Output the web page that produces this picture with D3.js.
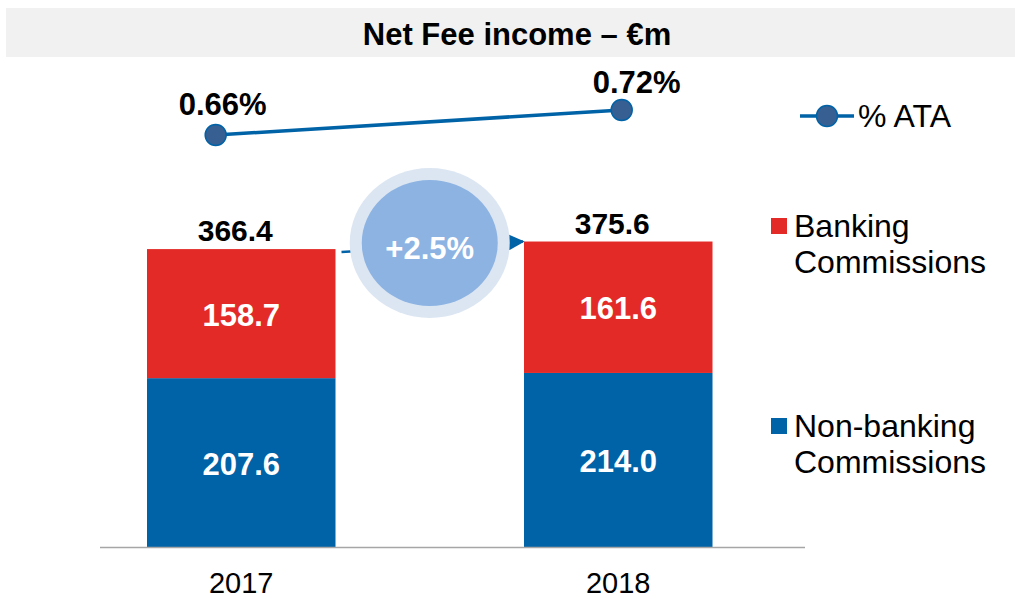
<!DOCTYPE html>
<html>
<head>
<meta charset="utf-8">
<script src="https://cdn.jsdelivr.net/npm/d3@7"></script>
<style>
  body { margin: 0; background: #fff; }
  svg { display: block; font-family: "Liberation Sans", Arial, sans-serif; }
</style>
</head>
<body>
<script>

// data
var years = ["2017", "2018"];
var nonBanking = [207.6, 214.0];
var banking = [158.7, 161.6];
var totals = [366.4, 375.6];
var ata = [0.66, 0.72];
var ataLabels = ["0.66%", "0.72%"];
var growthLabel = "+2.5%";
var title = "Net Fee income \u2013 \u20acm";

var w = 1015, h = 599;
var red = "#e42a27", blue = "#0062a7";

var svg = d3.select("body").append("svg")
    .attr("width", w)
    .attr("height", h);

// title band
svg.append("rect")
    .attr("x", 6).attr("y", 8)
    .attr("width", w - 6).attr("height", 49)
    .attr("fill", "#f1f1f1");

svg.append("text")
    .attr("x", 517).attr("y", 45)
    .attr("text-anchor", "middle")
    .style("font-size", "31px")
    .style("font-weight", "bold")
    .text(title);

// scales
var xScale = d3.scaleBand()
    .domain(years)
    .range([52.75, 806.75])
    .paddingInner(0.5)
    .paddingOuter(0.25);

var yScale = d3.scaleLinear()
    .domain([0, 400])
    .range([547, 547 - 400 * 0.8133]);

var xLine = d3.scalePoint().domain(years).range([215.7, 621.7]);
var yLine = d3.scaleLinear().domain([0.6, 0.75]).range([160, 97.5]);

// stacked bars
var stacked = years.map(function(y, i) {
    return { year: y, nb: nonBanking[i], b: banking[i], total: totals[i] };
});

var stack = d3.stack().keys(["nb", "b"])(stacked);
var colors = { nb: blue, b: red };

stack.forEach(function(layer) {
    svg.append("g").selectAll("rect")
        .data(layer)
        .enter()
        .append("rect")
        .attr("x", function(d) { return xScale(d.data.year); })
        .attr("y", function(d) { return yScale(d[1]); })
        .attr("width", xScale.bandwidth())
        .attr("height", function(d) { return yScale(d[0]) - yScale(d[1]); })
        .attr("fill", colors[layer.key]);

    svg.append("g").selectAll("text")
        .data(layer)
        .enter()
        .append("text")
        .attr("x", function(d) { return xScale(d.data.year) + xScale.bandwidth() / 2; })
        .attr("y", function(d) { return (yScale(d[0]) + yScale(d[1])) / 2 + 12; })
        .attr("text-anchor", "middle")
        .attr("fill", "#fff")
        .style("font-size", "31px")
        .style("font-weight", "bold")
        .text(function(d) { return d.data[layer.key].toFixed(1); });
});

// totals above bars
svg.selectAll(".total")
    .data(stacked)
    .enter()
    .append("text")
    .attr("x", function(d) { return xScale(d.year) + xScale.bandwidth() / 2 - 6; })
    .attr("y", function(d) { return yScale(d.total) - 8; })
    .attr("text-anchor", "middle")
    .style("font-size", "30px")
    .style("font-weight", "bold")
    .text(function(d) { return d.total.toFixed(1); });

// x axis line
svg.append("line")
    .attr("x1", 100).attr("x2", 805)
    .attr("y1", yScale(0) + 0.5).attr("y2", yScale(0) + 0.5)
    .attr("stroke", "#a6a6a6")
    .attr("stroke-width", 1.5);

svg.selectAll(".year")
    .data(years)
    .enter()
    .append("text")
    .attr("x", function(d) { return xScale(d) + xScale.bandwidth() / 2; })
    .attr("y", 593)
    .attr("text-anchor", "middle")
    .style("font-size", "29px")
    .text(function(d) { return d; });

// growth arrow + bubble
var defs = svg.append("defs");
defs.append("marker")
    .attr("id", "arrow")
    .attr("viewBox", "0 0 10 10")
    .attr("refX", 9).attr("refY", 5)
    .attr("markerWidth", 6.5).attr("markerHeight", 6.5)
    .attr("orient", "auto")
    .append("path")
    .attr("d", "M0,0 L10,5 L0,10 Z")
    .attr("fill", blue);

var x0 = xScale("2017") + xScale.bandwidth(), x1 = xScale("2018");
svg.append("line")
    .attr("x1", x0 + 6).attr("y1", yScale(totals[0]) + 3)
    .attr("x2", x1 - 1).attr("y2", yScale(totals[1]))
    .attr("stroke", blue)
    .attr("stroke-width", 2.5)
    .attr("marker-end", "url(#arrow)");

var cx = (x0 + x1) / 2, cy = 243;
svg.append("ellipse")
    .attr("cx", cx).attr("cy", cy)
    .attr("rx", 80).attr("ry", 75)
    .attr("fill", "#dce6f2");
svg.append("ellipse")
    .attr("cx", cx).attr("cy", cy)
    .attr("rx", 68).attr("ry", 63)
    .attr("fill", "#8db3e2");
svg.append("text")
    .attr("x", cx).attr("y", cy + 16)
    .attr("text-anchor", "middle")
    .attr("fill", "#fff")
    .style("font-size", "31px")
    .style("font-weight", "bold")
    .text(growthLabel);

// % ATA line
var lineGen = d3.line()
    .x(function(d, i) { return xLine(years[i]); })
    .y(function(d) { return yLine(d); });

svg.append("path")
    .datum(ata)
    .attr("d", lineGen)
    .attr("fill", "none")
    .attr("stroke", blue)
    .attr("stroke-width", 3.5);

svg.selectAll(".dot")
    .data(ata)
    .enter()
    .append("circle")
    .attr("cx", function(d, i) { return xLine(years[i]); })
    .attr("cy", function(d) { return yLine(d); })
    .attr("r", 10.5)
    .attr("fill", "#375f92")
    .attr("stroke", blue)
    .attr("stroke-width", 1.5);

svg.selectAll(".ataLabel")
    .data(ata)
    .enter()
    .append("text")
    .attr("x", function(d, i) { return xLine(years[i]) + 7 + i * 8; })
    .attr("y", function(d, i) { return yLine(d) - 20 + i * 3; })
    .attr("text-anchor", "middle")
    .style("font-size", "31px")
    .style("font-weight", "bold")
    .text(function(d, i) { return ataLabels[i]; });

// legend
var lg = svg.append("g");
lg.append("line")
    .attr("x1", 800).attr("x2", 854)
    .attr("y1", 116).attr("y2", 116)
    .attr("stroke", blue).attr("stroke-width", 3.5);
lg.append("circle")
    .attr("cx", 827).attr("cy", 116).attr("r", 10.5)
    .attr("fill", "#375f92").attr("stroke", blue).attr("stroke-width", 1.5);
lg.append("text")
    .attr("x", 858).attr("y", 127)
    .style("font-size", "32px")
    .text("% ATA");

var legendItems = [
    { color: red, lines: ["Banking", "Commissions"], y: 218 },
    { color: blue, lines: ["Non-banking", "Commissions"], y: 418 }
];
legendItems.forEach(function(item) {
    lg.append("rect")
        .attr("x", 771).attr("y", item.y)
        .attr("width", 16).attr("height", 16)
        .attr("fill", item.color);
    item.lines.forEach(function(t, j) {
        lg.append("text")
            .attr("x", 794).attr("y", item.y + 19 + j * 36)
            .style("font-size", "32px")
            .text(t);
    });
});

</script>
</body>
</html>
